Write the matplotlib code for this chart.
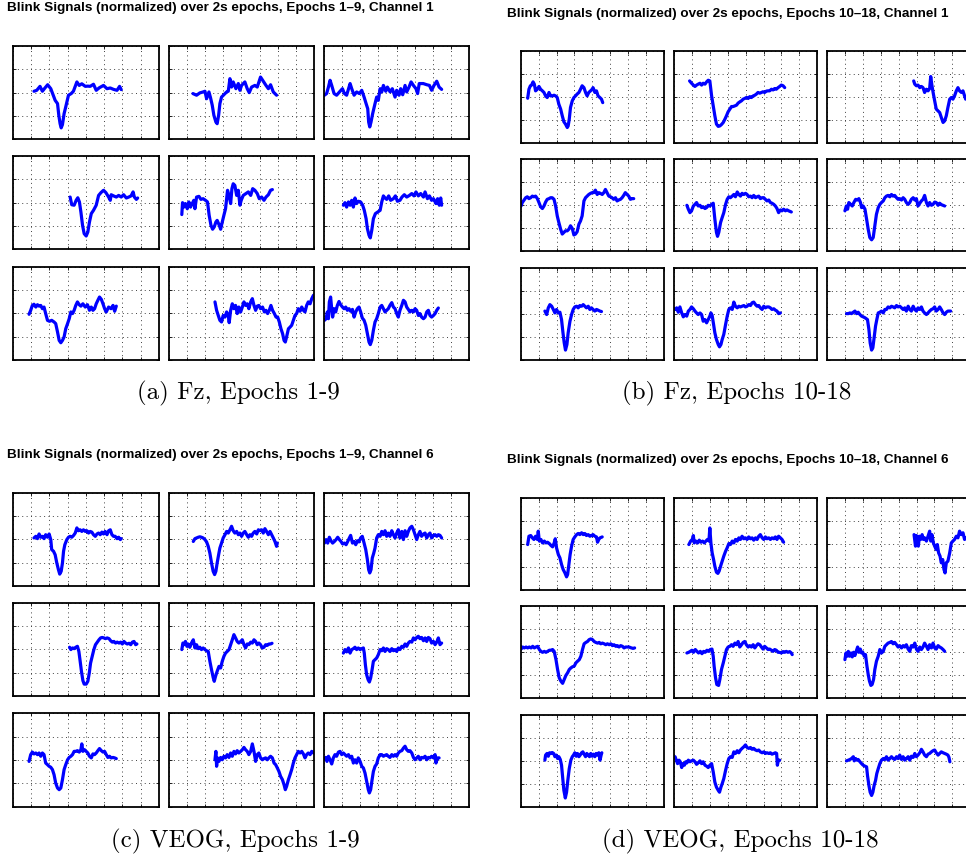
import numpy as np
import matplotlib
matplotlib.use("Agg")
import matplotlib.pyplot as plt

W, H = 966, 861

# ---------------------------------------------------------------------------
# Normalized blink epochs: (time, amplitude) samples, time in quarter-seconds
# ---------------------------------------------------------------------------

# Channel 1 (Fz), epochs 1-9
FZ_E01 = [(1.15, 0.06), (1.30, 0.10), (1.48, 0.27), (1.61, 0.06), (1.75, 0.20), (1.90, 0.34), (2.07, 0.17),
          (2.20, -0.10), (2.31, -0.33), (2.44, -0.47), (2.51, -0.97), (2.58, -1.33), (2.64, -1.51), (2.71, -1.37),
          (2.80, -0.90), (2.89, -0.61), (3.04, -0.11), (3.19, -0.04), (3.31, 0.06), (3.50, 0.46), (3.63, 0.31),
          (3.77, 0.38), (3.96, 0.27), (4.10, 0.28), (4.23, 0.27), (4.41, 0.36), (4.56, 0.10), (4.73, 0.21),
          (4.96, 0.31), (5.15, 0.17), (5.33, 0.20), (5.51, 0.14), (5.70, 0.10), (5.84, 0.27), (5.93, 0.13)]
FZ_E02 = [(1.34, -0.04), (1.54, -0.11), (1.72, -0.01), (1.90, 0.03), (2.00, 0.06), (2.09, -0.26), (2.22, 0.03),
          (2.31, -0.23), (2.40, -0.54), (2.49, -0.97), (2.60, -1.26), (2.67, -1.33), (2.75, -0.97), (2.82, -0.47),
          (2.91, -0.19), (3.10, -0.04), (3.19, 0.03), (3.28, 0.06), (3.37, 0.60), (3.46, 0.24), (3.55, 0.46),
          (3.70, 0.17), (3.83, 0.39), (3.92, 0.10), (4.01, 0.31), (4.19, 0.46), (4.32, 0.17), (4.43, 0.00),
          (4.56, 0.24), (4.74, 0.31), (4.87, 0.24), (5.05, 0.67), (5.20, 0.49), (5.35, 0.31), (5.48, 0.17),
          (5.60, 0.34), (5.75, 0.03), (5.93, -0.11)]
FZ_E03 = [(0.04, -0.11), (0.16, -0.04), (0.26, 0.24), (0.35, 0.53), (0.44, 0.31), (0.57, -0.04), (0.71, -0.11),
          (0.90, 0.06), (1.03, 0.17), (1.14, -0.04), (1.26, -0.11), (1.45, 0.39), (1.54, 0.17), (1.67, -0.11),
          (1.81, 0.03), (1.96, -0.04), (2.09, 0.10), (2.22, -0.19), (2.33, -0.47), (2.42, -0.69), (2.47, -1.26),
          (2.53, -1.47), (2.60, -1.26), (2.69, -0.90), (2.82, -0.47), (2.91, -0.19), (3.00, -0.33), (3.10, 0.17),
          (3.19, 0.03), (3.28, 0.31), (3.41, 0.06), (3.50, 0.24), (3.65, 0.03), (3.77, 0.17), (3.92, -0.19),
          (4.01, 0.10), (4.14, -0.11), (4.23, 0.17), (4.34, -0.09), (4.47, 0.31), (4.56, 0.03), (4.69, 0.24),
          (4.80, 0.46), (4.93, 0.31), (5.07, 0.17), (5.16, -0.04), (5.25, 0.39), (5.47, 0.39), (5.66, 0.34),
          (5.81, 0.31), (5.93, 0.10), (6.06, 0.31), (6.21, 0.49), (6.34, 0.24), (6.48, 0.14)]
FZ_E04 = [(3.13, 0.24), (3.22, -0.09), (3.35, -0.11), (3.46, 0.10), (3.55, 0.21), (3.64, 0.03), (3.72, -0.40),
          (3.81, -0.97), (3.90, -1.33), (4.01, -1.43), (4.10, -1.26), (4.19, -0.83), (4.29, -0.47), (4.41, -0.33),
          (4.56, -0.11), (4.69, 0.31), (4.82, 0.43), (4.96, 0.53), (5.09, 0.43), (5.24, 0.24), (5.33, 0.10),
          (5.38, 0.34), (5.51, 0.29), (5.66, 0.24), (5.79, 0.31), (5.93, 0.24), (6.06, 0.34), (6.21, 0.20),
          (6.34, 0.24), (6.47, 0.29), (6.58, 0.46), (6.65, 0.24), (6.76, 0.14), (6.83, 0.20)]
FZ_E05 = [(0.73, -0.51), (0.77, 0.00), (0.84, -0.19), (0.93, -0.04), (1.03, -0.26), (1.12, 0.03), (1.21, -0.19),
          (1.30, -0.04), (1.39, 0.10), (1.45, -0.26), (1.54, 0.24), (1.67, 0.27), (1.78, 0.14), (1.90, 0.17),
          (2.03, 0.10), (2.14, 0.03), (2.23, -0.54), (2.33, -0.97), (2.42, -1.14), (2.51, -1.04), (2.60, -0.83),
          (2.67, -0.76), (2.77, -0.94), (2.86, -1.14), (2.95, -0.83), (3.04, -0.54), (3.13, -0.26), (3.19, 0.17),
          (3.24, 0.53), (3.32, 0.31), (3.41, -0.04), (3.48, 0.60), (3.55, 0.81), (3.64, 0.74), (3.74, 0.31),
          (3.83, 0.53), (3.92, -0.11), (3.99, 0.10), (4.10, 0.31), (4.25, 0.39), (4.38, 0.46), (4.51, 0.31),
          (4.62, 0.60), (4.74, 0.53), (4.87, 0.39), (4.98, 0.17), (5.11, 0.24), (5.24, 0.10), (5.35, 0.24),
          (5.48, 0.34), (5.60, 0.53), (5.70, 0.56)]
FZ_E06 = [(1.08, -0.11), (1.17, 0.00), (1.26, -0.19), (1.36, 0.03), (1.45, -0.11), (1.54, 0.10), (1.63, -0.19),
          (1.72, 0.20), (1.81, -0.04), (1.90, 0.06), (2.03, 0.03), (2.14, -0.11), (2.23, -0.33), (2.33, -0.69),
          (2.40, -1.11), (2.49, -1.40), (2.56, -1.51), (2.64, -1.19), (2.73, -0.69), (2.84, -0.47), (2.97, -0.40),
          (3.10, -0.33), (3.19, 0.03), (3.28, 0.29), (3.37, 0.20), (3.46, 0.14), (3.57, 0.29), (3.68, 0.10),
          (3.83, 0.17), (3.94, 0.29), (4.05, 0.06), (4.19, 0.10), (4.30, 0.24), (4.43, 0.34), (4.56, 0.24),
          (4.71, 0.31), (4.84, 0.39), (4.96, 0.29), (5.07, 0.46), (5.20, 0.29), (5.33, 0.39), (5.48, 0.24),
          (5.57, 0.46), (5.70, 0.17), (5.81, 0.29), (5.93, 0.10), (6.03, 0.17), (6.17, -0.04), (6.26, 0.17),
          (6.35, -0.11), (6.43, 0.20), (6.48, -0.11)]
FZ_E07 = [(0.88, -0.04), (0.97, 0.13), (1.06, 0.34), (1.15, 0.39), (1.25, 0.27), (1.34, 0.37), (1.43, 0.31),
          (1.52, 0.34), (1.61, 0.20), (1.70, 0.27), (1.79, -0.01), (1.89, -0.30), (2.00, -0.34), (2.12, -0.30),
          (2.25, -0.37), (2.34, -0.44), (2.44, -0.80), (2.53, -1.16), (2.62, -1.26), (2.71, -1.16), (2.80, -1.01),
          (2.89, -0.66), (2.99, -0.44), (3.08, -0.23), (3.17, 0.06), (3.26, -0.01), (3.35, 0.13), (3.44, 0.34),
          (3.53, 0.49), (3.63, 0.37), (3.72, 0.31), (3.83, 0.41), (3.96, 0.27), (4.08, 0.37), (4.19, 0.13),
          (4.29, 0.27), (4.38, 0.13), (4.47, 0.20), (4.56, 0.41), (4.65, 0.56), (4.74, 0.70), (4.84, 0.60),
          (4.93, 0.41), (5.02, 0.20), (5.11, 0.06), (5.24, 0.27), (5.37, 0.20), (5.48, 0.34), (5.57, 0.09),
          (5.66, 0.31)]
FZ_E08 = [(2.55, 0.49), (2.64, 0.13), (2.73, -0.09), (2.82, -0.30), (2.91, -0.37), (3.00, -0.09), (3.10, -0.16),
          (3.19, 0.06), (3.28, -0.09), (3.33, -0.40), (3.41, 0.13), (3.50, 0.41), (3.59, 0.20), (3.68, 0.34),
          (3.77, -0.01), (3.86, 0.27), (3.96, 0.06), (4.05, 0.27), (4.14, 0.49), (4.23, 0.34), (4.32, 0.41),
          (4.41, 0.20), (4.51, 0.49), (4.60, 0.63), (4.69, 0.34), (4.78, 0.13), (4.87, 0.31), (4.96, 0.34),
          (5.05, 0.20), (5.16, 0.27), (5.26, 0.06), (5.35, 0.13), (5.44, -0.01), (5.53, 0.13), (5.62, 0.34),
          (5.71, 0.13), (5.81, -0.01), (5.90, -0.16), (5.99, -0.16), (6.08, -0.37), (6.17, -0.66), (6.26, -0.87),
          (6.34, -1.16), (6.41, -1.23), (6.48, -1.01), (6.58, -0.66), (6.67, -0.59), (6.76, -0.51), (6.85, -0.30),
          (6.94, -0.09), (7.03, -0.01), (7.12, 0.20), (7.22, 0.09), (7.31, 0.27), (7.40, 0.13), (7.49, 0.06),
          (7.58, 0.34), (7.67, 0.49), (7.77, 0.41), (7.86, 0.63), (7.95, 0.77), (8.00, 0.80), (8.10, 0.88)]
FZ_E09 = [(0.04, -0.30), (0.13, -0.23), (0.20, 0.06), (0.26, -0.23), (0.31, 0.49), (0.38, 0.70), (0.44, 0.20),
          (0.49, -0.16), (0.57, 0.20), (0.66, 0.06), (0.75, 0.34), (0.84, 0.51), (0.93, 0.37), (1.03, 0.27),
          (1.12, 0.20), (1.21, 0.27), (1.30, 0.13), (1.39, 0.20), (1.48, 0.09), (1.58, 0.17), (1.67, -0.16),
          (1.76, 0.06), (1.85, 0.20), (1.94, 0.27), (2.03, 0.06), (2.12, -0.20), (2.22, -0.30), (2.31, -0.51),
          (2.40, -0.87), (2.49, -1.23), (2.56, -1.34), (2.64, -1.16), (2.73, -0.73), (2.82, -0.37), (2.91, -0.23),
          (3.00, -0.01), (3.10, 0.27), (3.19, 0.34), (3.28, 0.20), (3.37, 0.06), (3.46, 0.13), (3.55, 0.20),
          (3.64, 0.34), (3.74, 0.46), (3.83, 0.27), (3.92, 0.20), (4.01, -0.01), (4.10, -0.16), (4.19, 0.13),
          (4.29, 0.34), (4.38, 0.56), (4.47, 0.49), (4.56, 0.27), (4.65, 0.17), (4.74, 0.06), (4.84, 0.13),
          (4.93, 0.06), (5.02, 0.20), (5.11, 0.13), (5.20, -0.09), (5.29, -0.01), (5.38, -0.16), (5.48, -0.23),
          (5.57, -0.16), (5.66, 0.06), (5.75, 0.13), (5.84, -0.09), (5.93, -0.16), (6.03, -0.09), (6.12, -0.01),
          (6.21, 0.13), (6.30, 0.23)]

# Channel 1 (Fz), epochs 10-18
FZ_E10 = [(0.39, -0.06), (0.46, 0.33), (0.54, 0.48), (0.61, 0.51), (0.69, 0.65), (0.76, 0.55), (0.83, 0.26),
          (0.93, 0.33), (1.02, 0.45), (1.11, 0.33), (1.21, 0.26), (1.30, 0.19), (1.39, 0.04), (1.48, -0.03),
          (1.58, 0.19), (1.67, 0.04), (1.76, 0.04), (1.86, 0.07), (1.95, 0.04), (2.04, -0.03), (2.13, -0.32),
          (2.23, -0.53), (2.32, -0.82), (2.41, -1.08), (2.50, -1.18), (2.60, -1.33), (2.65, -1.26), (2.71, -0.97),
          (2.78, -0.46), (2.88, -0.17), (2.97, -0.03), (3.06, 0.04), (3.15, 0.12), (3.25, 0.19), (3.34, 0.33),
          (3.43, 0.48), (3.53, 0.40), (3.62, 0.19), (3.71, 0.04), (3.80, 0.19), (3.90, 0.26), (3.99, 0.33),
          (4.04, 0.40), (4.14, 0.19), (4.23, 0.26), (4.32, 0.04), (4.42, -0.03), (4.51, -0.10), (4.58, -0.25)]
FZ_E11 = [(0.87, 0.69), (0.98, 0.59), (1.08, 0.51), (1.17, 0.45), (1.26, 0.51), (1.35, 0.55), (1.45, 0.59),
          (1.54, 0.51), (1.63, 0.59), (1.73, 0.55), (1.82, 0.65), (1.91, 0.72), (2.00, 0.69), (2.10, 0.04),
          (2.19, -0.39), (2.28, -0.82), (2.37, -1.18), (2.47, -1.28), (2.56, -1.26), (2.65, -1.20), (2.75, -1.11),
          (2.84, -0.97), (2.93, -0.82), (3.02, -0.65), (3.12, -0.53), (3.21, -0.42), (3.30, -0.42), (3.40, -0.39),
          (3.49, -0.36), (3.58, -0.27), (3.67, -0.22), (3.77, -0.17), (3.86, -0.10), (3.95, -0.07), (4.04, -0.03),
          (4.14, -0.07), (4.23, 0.01), (4.32, -0.03), (4.42, 0.04), (4.51, 0.07), (4.60, 0.12), (4.69, 0.19),
          (4.79, 0.16), (4.88, 0.19), (4.97, 0.22), (5.06, 0.19), (5.16, 0.25), (5.25, 0.26), (5.34, 0.26),
          (5.44, 0.33), (5.53, 0.30), (5.62, 0.36), (5.71, 0.33), (5.81, 0.40), (5.90, 0.45), (5.99, 0.51),
          (6.09, 0.48), (6.18, 0.40)]
FZ_E12 = [(4.84, 0.69), (4.90, 0.55), (4.99, 0.48), (5.08, 0.51), (5.18, 0.40), (5.27, 0.45), (5.36, 0.40),
          (5.45, 0.19), (5.55, 0.33), (5.64, 0.26), (5.73, 0.36), (5.79, 0.88), (5.86, 0.48), (5.94, 0.12),
          (6.01, -0.17), (6.10, -0.53), (6.20, -0.61), (6.29, -0.68), (6.38, -0.89), (6.48, -1.11), (6.57, -1.04),
          (6.66, -0.82), (6.75, -0.46), (6.85, -0.10), (6.94, -0.03), (7.03, -0.10), (7.12, 0.04), (7.22, 0.26),
          (7.31, 0.40), (7.40, 0.26), (7.50, 0.19), (7.59, 0.26), (7.68, 0.04), (7.74, -0.10), (7.85, 0.10),
          (8.00, 0.25)]
FZ_E13 = [(0.02, -0.03), (0.09, 0.12), (0.19, 0.23), (0.28, 0.33), (0.37, 0.37), (0.46, 0.29), (0.56, 0.33),
          (0.65, 0.40), (0.74, 0.37), (0.83, 0.40), (0.93, 0.29), (1.02, 0.12), (1.11, -0.06), (1.21, -0.14),
          (1.30, -0.03), (1.39, 0.14), (1.48, 0.26), (1.58, 0.29), (1.67, 0.33), (1.76, 0.33), (1.86, 0.26),
          (1.95, -0.03), (2.04, -0.46), (2.13, -0.75), (2.23, -1.04), (2.32, -1.25), (2.41, -1.18), (2.50, -1.11),
          (2.60, -1.11), (2.69, -1.04), (2.78, -0.89), (2.88, -1.01), (2.97, -1.29), (3.06, -1.25), (3.15, -1.15),
          (3.25, -0.82), (3.34, -0.68), (3.43, -0.46), (3.53, 0.19), (3.62, 0.33), (3.71, 0.40), (3.80, 0.47),
          (3.90, 0.52), (3.99, 0.55), (4.08, 0.55), (4.17, 0.66), (4.27, 0.47), (4.36, 0.55), (4.45, 0.52),
          (4.55, 0.47), (4.64, 0.55), (4.73, 0.69), (4.82, 0.55), (4.92, 0.40), (5.01, 0.37), (5.10, 0.33),
          (5.19, 0.26), (5.29, 0.33), (5.38, 0.19), (5.47, 0.23), (5.57, 0.26), (5.66, 0.33), (5.75, 0.43),
          (5.84, 0.55), (5.94, 0.47), (6.03, 0.40), (6.12, 0.26), (6.22, 0.29), (6.31, 0.29)]
FZ_E14 = [(0.72, 0.00), (0.80, -0.17), (0.89, -0.32), (0.98, -0.24), (1.08, -0.03), (1.17, 0.04), (1.26, 0.12),
          (1.35, -0.03), (1.45, 0.00), (1.54, -0.10), (1.63, -0.06), (1.73, -0.14), (1.82, -0.10), (1.91, 0.00),
          (2.00, -0.03), (2.10, 0.04), (2.19, 0.09), (2.28, -0.60), (2.37, -1.18), (2.43, -1.35), (2.50, -1.18),
          (2.60, -0.75), (2.69, -0.53), (2.78, -0.32), (2.88, 0.04), (2.97, 0.26), (3.06, 0.37), (3.15, 0.33),
          (3.25, 0.40), (3.34, 0.47), (3.43, 0.37), (3.53, 0.58), (3.62, 0.47), (3.71, 0.40), (3.80, 0.52),
          (3.90, 0.47), (3.99, 0.52), (4.08, 0.47), (4.17, 0.37), (4.27, 0.40), (4.36, 0.33), (4.45, 0.43),
          (4.55, 0.33), (4.64, 0.37), (4.73, 0.40), (4.82, 0.29), (4.92, 0.33), (5.01, 0.33), (5.10, 0.26),
          (5.19, 0.19), (5.29, 0.23), (5.38, 0.12), (5.47, 0.09), (5.57, 0.04), (5.66, -0.03), (5.75, -0.14),
          (5.84, -0.32), (5.94, -0.20), (6.03, -0.24), (6.12, -0.17), (6.22, -0.24), (6.31, -0.20), (6.40, -0.24),
          (6.55, -0.29)]
FZ_E15 = [(1.00, -0.24), (1.08, -0.03), (1.15, -0.17), (1.22, 0.12), (1.32, 0.04), (1.41, -0.03), (1.50, 0.12),
          (1.60, 0.26), (1.69, 0.23), (1.78, 0.29), (1.87, 0.12), (1.93, -0.10), (2.02, -0.03), (2.12, -0.17),
          (2.21, -0.60), (2.30, -1.04), (2.39, -1.40), (2.49, -1.50), (2.58, -1.40), (2.67, -0.89), (2.76, -0.39),
          (2.86, -0.10), (2.95, 0.04), (3.04, 0.12), (3.14, 0.19), (3.23, 0.33), (3.32, 0.40), (3.41, 0.43),
          (3.51, 0.37), (3.60, 0.47), (3.69, 0.40), (3.78, 0.43), (3.88, 0.33), (3.97, 0.26), (4.06, 0.29),
          (4.16, 0.23), (4.25, 0.33), (4.34, 0.26), (4.43, 0.12), (4.53, 0.04), (4.62, 0.12), (4.71, 0.26),
          (4.81, 0.33), (4.90, 0.23), (4.99, 0.29), (5.08, -0.03), (5.18, 0.09), (5.27, 0.19), (5.36, 0.26),
          (5.45, 0.43), (5.55, 0.12), (5.64, -0.03), (5.73, 0.12), (5.83, 0.00), (5.92, 0.04), (6.01, 0.14),
          (6.10, 0.12), (6.20, 0.00), (6.29, 0.09), (6.38, 0.03), (6.57, -0.03)]
FZ_E16 = [(1.35, 0.12), (1.45, -0.03), (1.54, 0.26), (1.63, 0.40), (1.73, 0.33), (1.82, 0.19), (1.91, 0.04),
          (2.00, 0.19), (2.10, 0.04), (2.19, 0.07), (2.28, -0.25), (2.36, -0.82), (2.43, -1.26), (2.50, -1.57),
          (2.58, -1.33), (2.65, -0.82), (2.75, -0.32), (2.84, -0.03), (2.93, 0.19), (3.02, 0.30), (3.12, 0.33),
          (3.21, 0.26), (3.30, 0.36), (3.40, 0.33), (3.49, 0.40), (3.58, 0.33), (3.67, 0.26), (3.77, 0.33),
          (3.86, 0.19), (3.95, 0.26), (4.04, 0.19), (4.14, 0.12), (4.23, 0.19), (4.32, 0.16), (4.42, 0.12),
          (4.51, 0.10)]
FZ_E17 = [(0.06, 0.19), (0.15, 0.26), (0.24, 0.07), (0.33, 0.30), (0.43, 0.04), (0.52, -0.13), (0.61, -0.03),
          (0.71, -0.10), (0.80, 0.12), (0.89, 0.19), (0.98, 0.30), (1.08, 0.22), (1.17, 0.12), (1.26, 0.04),
          (1.35, -0.03), (1.45, 0.04), (1.54, -0.03), (1.63, -0.32), (1.73, -0.25), (1.82, -0.39), (1.91, -0.25),
          (2.00, -0.10), (2.06, 0.04), (2.13, -0.07), (2.21, -0.46), (2.28, -0.82), (2.37, -1.11), (2.47, -1.33),
          (2.54, -1.43), (2.62, -1.33), (2.69, -1.11), (2.78, -0.89), (2.88, -0.46), (2.97, -0.10), (3.06, 0.19),
          (3.15, 0.26), (3.25, 0.19), (3.34, 0.51), (3.43, 0.33), (3.53, 0.26), (3.62, 0.33), (3.71, 0.30),
          (3.80, 0.33), (3.90, 0.36), (3.99, 0.30), (4.08, 0.33), (4.17, 0.40), (4.27, 0.36), (4.36, 0.48),
          (4.45, 0.51), (4.55, 0.40), (4.64, 0.33), (4.73, 0.36), (4.82, 0.26), (4.92, 0.19), (5.01, 0.33),
          (5.10, 0.26), (5.19, 0.30), (5.29, 0.30), (5.38, 0.26), (5.47, 0.19), (5.57, 0.22), (5.66, 0.16),
          (5.75, 0.12), (5.84, 0.01), (5.94, 0.04)]
FZ_E18 = [(1.09, 0.01), (1.19, 0.01), (1.28, 0.04), (1.37, 0.01), (1.47, 0.07), (1.56, 0.12), (1.65, 0.01),
          (1.74, 0.07), (1.84, -0.03), (1.93, -0.10), (2.02, -0.13), (2.12, -0.17), (2.21, -0.22), (2.26, -0.25),
          (2.34, -0.68), (2.41, -1.26), (2.49, -1.57), (2.56, -1.47), (2.63, -1.04), (2.71, -0.53), (2.78, -0.25),
          (2.86, 0.04), (2.95, 0.07), (3.04, 0.12), (3.14, 0.04), (3.23, 0.19), (3.32, 0.19), (3.41, 0.30),
          (3.51, 0.26), (3.60, 0.33), (3.69, 0.30), (3.78, 0.26), (3.88, 0.36), (3.97, 0.30), (4.06, 0.33),
          (4.16, 0.26), (4.25, 0.19), (4.34, 0.26), (4.43, 0.12), (4.53, 0.33), (4.62, 0.19), (4.71, 0.12),
          (4.81, 0.33), (4.90, 0.19), (4.99, 0.12), (5.08, 0.26), (5.18, 0.19), (5.27, 0.30), (5.36, 0.12),
          (5.45, 0.04), (5.55, -0.03), (5.64, 0.04), (5.73, 0.12), (5.83, 0.19), (5.92, 0.22), (6.01, 0.30),
          (6.10, 0.12), (6.20, 0.19), (6.29, 0.30), (6.38, 0.19), (6.48, 0.04), (6.57, -0.03), (6.66, 0.07),
          (6.75, 0.12), (6.90, 0.12)]

# Channel 6 (VEOG), epochs 1-9
VEOG_E01 = [(1.15, 0.06), (1.25, 0.13), (1.34, 0.03), (1.43, 0.23), (1.52, 0.09), (1.61, 0.13), (1.70, 0.03),
            (1.79, 0.20), (1.89, 0.09), (1.98, 0.23), (2.07, -0.01), (2.12, -0.44), (2.22, -0.51), (2.31, -0.66),
            (2.40, -1.01), (2.49, -1.30), (2.56, -1.49), (2.64, -1.37), (2.71, -1.01), (2.77, -0.51), (2.84, -0.23),
            (2.95, -0.01), (3.04, 0.09), (3.13, 0.13), (3.22, 0.09), (3.32, 0.17), (3.41, 0.27), (3.50, 0.49),
            (3.59, 0.37), (3.68, 0.41), (3.77, 0.34), (3.86, 0.41), (3.96, 0.34), (4.05, 0.37), (4.14, 0.27),
            (4.23, 0.34), (4.32, 0.31), (4.41, 0.20), (4.51, 0.13), (4.60, 0.23), (4.69, 0.27), (4.78, 0.20),
            (4.87, 0.31), (4.96, 0.23), (5.05, 0.34), (5.15, 0.20), (5.24, 0.37), (5.33, 0.41), (5.42, 0.20),
            (5.51, 0.13), (5.60, 0.13), (5.70, 0.03), (5.79, 0.09), (5.88, -0.01), (5.93, 0.03)]
VEOG_E02 = [(1.36, -0.09), (1.45, 0.03), (1.54, 0.06), (1.63, 0.09), (1.72, 0.11), (1.81, 0.09), (1.90, 0.06),
            (2.00, -0.01), (2.09, -0.11), (2.18, -0.30), (2.27, -0.59), (2.36, -1.01), (2.45, -1.37), (2.53, -1.51),
            (2.60, -1.37), (2.67, -1.01), (2.75, -0.66), (2.82, -0.37), (2.91, -0.16), (3.00, 0.06), (3.10, 0.20),
            (3.19, 0.34), (3.28, 0.27), (3.37, 0.41), (3.46, 0.56), (3.55, 0.37), (3.64, 0.27), (3.74, 0.34),
            (3.83, 0.20), (3.92, 0.27), (4.01, 0.13), (4.10, 0.27), (4.19, 0.34), (4.29, 0.20), (4.38, 0.09),
            (4.47, 0.20), (4.56, 0.13), (4.65, 0.27), (4.74, 0.34), (4.84, 0.23), (4.93, 0.41), (5.02, 0.37),
            (5.11, 0.41), (5.20, 0.27), (5.29, 0.46), (5.38, 0.34), (5.48, 0.20), (5.57, 0.34), (5.66, 0.20),
            (5.75, 0.06), (5.84, -0.09), (5.93, -0.30), (5.97, -0.16)]
VEOG_E03 = [(0.04, -0.16), (0.13, -0.01), (0.22, -0.16), (0.31, 0.09), (0.40, -0.06), (0.49, -0.16), (0.59, -0.09),
            (0.68, -0.01), (0.77, 0.09), (0.86, -0.01), (0.95, -0.09), (1.04, -0.20), (1.14, -0.16), (1.23, -0.23),
            (1.32, -0.09), (1.41, 0.06), (1.48, 0.17), (1.58, -0.16), (1.67, -0.09), (1.76, -0.23), (1.85, -0.06),
            (1.94, -0.11), (2.03, 0.06), (2.12, 0.13), (2.22, -0.16), (2.31, -0.44), (2.40, -0.87), (2.47, -1.30),
            (2.53, -1.44), (2.60, -1.30), (2.67, -0.80), (2.75, -0.59), (2.82, -0.37), (2.91, 0.06), (3.00, 0.20),
            (3.10, 0.13), (3.19, 0.34), (3.28, 0.20), (3.37, 0.37), (3.46, 0.13), (3.55, 0.27), (3.64, 0.13),
            (3.74, 0.37), (3.83, 0.20), (3.92, 0.06), (4.01, 0.27), (4.10, 0.41), (4.19, 0.06), (4.29, 0.34),
            (4.38, -0.01), (4.47, 0.37), (4.56, 0.13), (4.65, 0.34), (4.74, 0.49), (4.84, 0.56), (4.93, 0.41),
            (5.02, 0.20), (5.11, -0.01), (5.20, 0.20), (5.29, 0.34), (5.38, 0.13), (5.48, 0.23), (5.57, 0.27),
            (5.66, 0.06), (5.75, 0.20), (5.84, 0.27), (5.93, 0.06), (6.03, 0.17), (6.12, 0.20), (6.21, 0.13),
            (6.30, 0.20), (6.39, 0.17), (6.48, 0.06)]
VEOG_E04 = [(3.10, 0.09), (3.17, -0.01), (3.26, 0.06), (3.35, 0.03), (3.44, 0.09), (3.53, 0.13), (3.61, -0.09),
            (3.68, -0.51), (3.75, -0.94), (3.83, -1.34), (3.90, -1.49), (4.01, -1.49), (4.10, -1.37), (4.18, -1.01),
            (4.25, -0.59), (4.34, -0.30), (4.43, -0.01), (4.52, 0.20), (4.62, 0.31), (4.71, 0.41), (4.80, 0.49),
            (4.89, 0.51), (4.98, 0.49), (5.07, 0.46), (5.16, 0.49), (5.26, 0.46), (5.35, 0.37), (5.44, 0.31),
            (5.53, 0.34), (5.62, 0.27), (5.71, 0.31), (5.81, 0.27), (5.90, 0.31), (5.99, 0.23), (6.08, 0.34),
            (6.17, 0.27), (6.26, 0.23), (6.36, 0.26), (6.45, 0.20), (6.54, 0.31), (6.63, 0.34), (6.72, 0.20),
            (6.79, 0.23)]
VEOG_E05 = [(0.73, -0.01), (0.79, 0.27), (0.86, 0.20), (0.93, 0.34), (1.01, 0.13), (1.08, 0.23), (1.17, 0.09),
            (1.26, 0.27), (1.36, 0.41), (1.45, 0.06), (1.54, 0.20), (1.63, 0.03), (1.72, 0.09), (1.81, -0.01),
            (1.90, 0.06), (2.00, -0.01), (2.09, -0.06), (2.18, -0.09), (2.27, -0.51), (2.36, -0.87), (2.45, -1.20),
            (2.51, -1.37), (2.58, -1.16), (2.67, -0.94), (2.77, -0.73), (2.86, -0.80), (2.95, -0.51), (3.04, -0.30),
            (3.13, -0.16), (3.22, -0.09), (3.32, -0.01), (3.41, 0.20), (3.50, 0.41), (3.59, 0.63), (3.68, 0.49),
            (3.77, 0.34), (3.86, 0.27), (3.96, 0.34), (4.05, 0.41), (4.14, 0.20), (4.23, 0.06), (4.32, 0.23),
            (4.41, 0.20), (4.51, 0.31), (4.60, 0.27), (4.69, 0.41), (4.78, 0.34), (4.87, 0.20), (4.96, 0.27),
            (5.05, 0.20), (5.15, 0.06), (5.24, 0.09), (5.33, 0.20), (5.42, 0.17), (5.51, 0.23), (5.60, 0.23),
            (5.68, 0.26)]
VEOG_E06 = [(1.08, -0.16), (1.17, -0.01), (1.26, -0.11), (1.36, 0.06), (1.45, -0.16), (1.54, -0.01), (1.63, 0.03),
            (1.72, 0.09), (1.81, -0.01), (1.90, 0.06), (2.00, -0.01), (2.09, 0.03), (2.18, 0.06), (2.23, -0.16),
            (2.29, -0.66), (2.36, -1.09), (2.44, -1.30), (2.51, -1.40), (2.58, -1.23), (2.66, -0.87), (2.73, -0.51),
            (2.82, -0.44), (2.91, -0.37), (3.00, -0.23), (3.10, -0.01), (3.19, -0.06), (3.28, 0.06), (3.37, -0.09),
            (3.46, 0.03), (3.55, -0.01), (3.64, -0.09), (3.74, 0.03), (3.83, -0.06), (3.92, -0.01), (4.01, -0.09),
            (4.10, 0.06), (4.19, -0.01), (4.29, 0.13), (4.38, 0.09), (4.47, 0.23), (4.56, 0.13), (4.65, 0.27),
            (4.74, 0.34), (4.84, 0.31), (4.93, 0.49), (5.02, 0.41), (5.11, 0.51), (5.20, 0.56), (5.29, 0.46),
            (5.38, 0.51), (5.48, 0.37), (5.57, 0.49), (5.66, 0.34), (5.75, 0.51), (5.84, 0.46), (5.93, 0.27),
            (6.03, 0.34), (6.12, 0.20), (6.21, 0.31), (6.30, 0.49), (6.39, 0.20), (6.48, 0.27)]
VEOG_E07 = [(0.88, -0.06), (0.97, 0.23), (1.06, 0.34), (1.15, 0.26), (1.25, 0.30), (1.34, 0.23), (1.43, 0.30),
            (1.52, 0.16), (1.61, 0.30), (1.70, 0.23), (1.79, -0.13), (1.89, -0.20), (1.98, -0.27), (2.07, -0.31),
            (2.16, -0.41), (2.25, -0.63), (2.34, -0.99), (2.44, -1.20), (2.53, -1.27), (2.62, -1.20), (2.71, -0.84),
            (2.80, -0.41), (2.89, -0.20), (2.99, 0.01), (3.08, 0.11), (3.17, 0.16), (3.26, 0.23), (3.35, 0.37),
            (3.44, 0.37), (3.53, 0.40), (3.63, 0.34), (3.72, 0.44), (3.77, 0.69), (3.83, 0.37), (3.92, 0.44),
            (4.01, 0.37), (4.10, 0.30), (4.19, 0.16), (4.29, 0.09), (4.38, 0.26), (4.47, 0.23), (4.56, 0.30),
            (4.65, 0.40), (4.74, 0.49), (4.84, 0.40), (4.93, 0.34), (5.02, 0.37), (5.11, 0.23), (5.20, 0.11),
            (5.29, 0.16), (5.38, 0.09), (5.48, 0.11), (5.57, 0.09), (5.66, 0.06)]
VEOG_E08 = [(2.55, 0.01), (2.60, 0.37), (2.64, -0.27), (2.69, 0.09), (2.77, -0.06), (2.86, 0.11), (2.95, 0.01),
            (3.04, 0.16), (3.13, 0.09), (3.22, 0.23), (3.32, 0.11), (3.41, 0.30), (3.50, 0.16), (3.59, 0.37),
            (3.68, 0.26), (3.77, 0.40), (3.86, 0.30), (3.96, 0.37), (4.05, 0.44), (4.14, 0.54), (4.23, 0.44),
            (4.32, 0.37), (4.41, 0.23), (4.51, 0.37), (4.60, 0.69), (4.69, 0.37), (4.78, -0.06), (4.87, 0.23),
            (4.96, 0.30), (5.05, 0.09), (5.15, 0.01), (5.24, 0.06), (5.33, 0.09), (5.42, 0.01), (5.51, 0.09),
            (5.60, 0.16), (5.70, 0.09), (5.79, -0.13), (5.88, -0.20), (5.97, -0.34), (6.06, -0.49), (6.15, -0.70),
            (6.25, -0.84), (6.34, -1.06), (6.41, -1.27), (6.48, -1.13), (6.58, -0.84), (6.67, -0.63), (6.76, -0.41),
            (6.85, -0.13), (6.94, 0.09), (7.03, 0.23), (7.12, 0.37), (7.22, 0.30), (7.31, 0.37), (7.40, 0.26),
            (7.49, 0.09), (7.58, 0.23), (7.67, 0.30), (7.77, 0.23), (7.86, 0.37), (7.95, 0.30), (8.00, 0.34),
            (8.10, 0.30)]
VEOG_E09 = [(0.04, 0.01), (0.11, 0.11), (0.18, -0.06), (0.26, 0.16), (0.35, 0.01), (0.44, -0.17), (0.53, 0.09),
            (0.62, 0.23), (0.71, 0.16), (0.81, 0.34), (0.90, 0.37), (0.99, 0.23), (1.08, 0.30), (1.17, 0.23),
            (1.26, 0.16), (1.36, 0.23), (1.45, 0.09), (1.54, 0.16), (1.63, -0.13), (1.72, 0.01), (1.81, -0.13),
            (1.90, 0.09), (2.00, -0.06), (2.09, -0.27), (2.18, -0.34), (2.27, -0.56), (2.36, -0.91), (2.45, -1.27),
            (2.51, -1.41), (2.58, -1.27), (2.66, -0.84), (2.73, -0.49), (2.82, -0.27), (2.91, -0.17), (3.00, 0.09),
            (3.10, 0.23), (3.19, 0.23), (3.28, 0.16), (3.37, 0.20), (3.46, 0.23), (3.55, 0.16), (3.64, 0.11),
            (3.74, 0.23), (3.83, 0.16), (3.92, 0.23), (4.01, 0.16), (4.10, 0.30), (4.19, 0.37), (4.29, 0.40),
            (4.38, 0.51), (4.47, 0.59), (4.56, 0.44), (4.65, 0.37), (4.74, 0.40), (4.84, 0.30), (4.93, 0.11),
            (5.02, 0.01), (5.11, 0.09), (5.20, 0.16), (5.29, 0.01), (5.38, 0.11), (5.48, 0.09), (5.57, 0.16),
            (5.66, 0.01), (5.75, 0.11), (5.84, 0.09), (5.93, 0.16), (6.03, 0.09), (6.12, 0.23), (6.17, -0.13),
            (6.25, 0.09), (6.34, 0.09)]

# Channel 6 (VEOG), epochs 10-18
VEOG_E10 = [(0.39, -0.03), (0.46, 0.33), (0.56, 0.36), (0.65, 0.26), (0.74, 0.19), (0.83, 0.33), (0.93, 0.19),
            (0.98, 0.55), (1.04, 0.12), (1.13, 0.19), (1.22, 0.04), (1.32, 0.12), (1.41, 0.04), (1.50, 0.07),
            (1.60, 0.01), (1.69, -0.07), (1.78, -0.13), (1.87, 0.04), (1.93, 0.22), (2.00, -0.17), (2.10, -0.46),
            (2.19, -0.61), (2.28, -0.89), (2.37, -1.11), (2.47, -1.26), (2.56, -1.43), (2.62, -1.33), (2.69, -0.89),
            (2.76, -0.46), (2.84, -0.10), (2.93, 0.19), (3.02, 0.30), (3.12, 0.40), (3.21, 0.45), (3.30, 0.40),
            (3.40, 0.48), (3.49, 0.40), (3.58, 0.45), (3.67, 0.36), (3.77, 0.40), (3.86, 0.33), (3.95, 0.36),
            (4.04, 0.40), (4.14, 0.33), (4.23, 0.30), (4.29, 0.07), (4.36, 0.19), (4.43, 0.26), (4.55, 0.30)]
VEOG_E11 = [(0.83, -0.03), (0.93, 0.12), (1.02, 0.19), (1.08, 0.36), (1.13, 0.04), (1.22, 0.12), (1.32, 0.04),
            (1.41, 0.16), (1.50, 0.07), (1.60, 0.12), (1.69, 0.04), (1.78, 0.12), (1.87, 0.19), (1.95, 0.12),
            (2.00, 0.69), (2.06, 0.04), (2.13, -0.39), (2.21, -0.68), (2.28, -0.97), (2.37, -1.23), (2.45, -1.28),
            (2.52, -1.18), (2.60, -0.97), (2.69, -0.75), (2.78, -0.53), (2.88, -0.32), (2.97, -0.17), (3.06, 0.01),
            (3.15, -0.03), (3.25, 0.12), (3.34, 0.04), (3.43, 0.19), (3.53, 0.12), (3.62, 0.26), (3.71, 0.19),
            (3.80, 0.33), (3.90, 0.22), (3.99, 0.26), (4.08, 0.19), (4.17, 0.30), (4.27, 0.22), (4.36, 0.26),
            (4.45, 0.16), (4.55, 0.26), (4.64, 0.19), (4.73, 0.33), (4.82, 0.40), (4.92, 0.26), (5.01, 0.19),
            (5.10, 0.30), (5.19, 0.22), (5.29, 0.26), (5.38, 0.19), (5.47, 0.26), (5.57, 0.22), (5.66, 0.30),
            (5.75, 0.19), (5.84, 0.33), (5.94, 0.26), (6.03, 0.19), (6.12, 0.07)]
VEOG_E12 = [(4.86, 0.40), (4.94, -0.10), (4.99, 0.36), (5.05, 0.26), (5.10, -0.10), (5.16, 0.33), (5.23, 0.19),
            (5.31, 0.40), (5.38, 0.19), (5.45, 0.26), (5.55, 0.12), (5.64, 0.33), (5.73, 0.55), (5.79, 0.12),
            (5.86, 0.40), (5.94, 0.04), (6.01, -0.10), (6.10, -0.25), (6.16, -0.03), (6.23, -0.39), (6.31, -0.53),
            (6.38, -0.82), (6.46, -0.68), (6.53, -1.11), (6.59, -1.26), (6.66, -0.82), (6.75, -0.75), (6.85, -0.39),
            (6.94, 0.04), (7.03, 0.12), (7.12, 0.19), (7.22, 0.33), (7.31, 0.26), (7.40, 0.55), (7.50, 0.40),
            (7.59, 0.48), (7.68, 0.19), (7.77, 0.26), (7.90, 0.30)]
VEOG_E13 = [(0.02, 0.14), (0.11, 0.23), (0.20, 0.19), (0.30, 0.23), (0.39, 0.19), (0.48, 0.23), (0.58, 0.19),
            (0.67, 0.26), (0.76, 0.19), (0.85, 0.23), (0.95, 0.26), (1.04, 0.12), (1.13, 0.04), (1.22, 0.00),
            (1.32, 0.04), (1.41, 0.00), (1.50, 0.04), (1.60, 0.09), (1.69, 0.09), (1.78, 0.12), (1.87, 0.04),
            (1.97, -0.32), (2.06, -0.75), (2.15, -1.11), (2.24, -1.25), (2.34, -1.35), (2.43, -1.18), (2.52, -1.01),
            (2.62, -0.89), (2.71, -0.75), (2.80, -0.68), (2.89, -0.63), (2.99, -0.60), (3.08, -0.46), (3.17, -0.39),
            (3.27, -0.32), (3.36, -0.17), (3.45, 0.12), (3.54, 0.37), (3.64, 0.43), (3.73, 0.47), (3.82, 0.55),
            (3.91, 0.58), (4.01, 0.55), (4.10, 0.47), (4.19, 0.43), (4.29, 0.40), (4.38, 0.43), (4.47, 0.37),
            (4.56, 0.40), (4.66, 0.37), (4.75, 0.33), (4.84, 0.37), (4.94, 0.33), (5.03, 0.37), (5.12, 0.29),
            (5.21, 0.33), (5.31, 0.26), (5.40, 0.29), (5.49, 0.23), (5.58, 0.29), (5.68, 0.26), (5.77, 0.19),
            (5.86, 0.23), (5.96, 0.23), (6.05, 0.23), (6.14, 0.20), (6.27, 0.17), (6.36, 0.19)]
VEOG_E14 = [(0.72, -0.03), (0.82, 0.00), (0.91, 0.04), (1.00, 0.09), (1.09, 0.00), (1.19, 0.12), (1.28, 0.04),
            (1.37, -0.03), (1.47, 0.04), (1.56, -0.06), (1.65, 0.04), (1.74, 0.00), (1.84, 0.09), (1.93, 0.04),
            (2.02, 0.12), (2.12, 0.14), (2.19, -0.17), (2.24, -0.60), (2.32, -1.11), (2.39, -1.40), (2.49, -1.44),
            (2.56, -1.18), (2.65, -0.75), (2.75, -0.46), (2.84, -0.17), (2.93, 0.12), (3.02, 0.23), (3.12, 0.26),
            (3.21, 0.33), (3.30, 0.26), (3.40, 0.40), (3.49, 0.33), (3.58, 0.47), (3.67, 0.23), (3.77, 0.33),
            (3.86, 0.43), (3.95, 0.47), (4.04, 0.33), (4.14, 0.23), (4.23, 0.29), (4.32, 0.23), (4.42, 0.33),
            (4.51, 0.19), (4.60, 0.29), (4.69, 0.37), (4.79, 0.33), (4.88, 0.23), (4.97, 0.14), (5.06, 0.26),
            (5.16, 0.19), (5.25, 0.12), (5.34, 0.14), (5.44, 0.09), (5.53, 0.04), (5.62, 0.12), (5.71, 0.09),
            (5.81, 0.00), (5.90, 0.00), (5.99, -0.03), (6.09, 0.03), (6.18, 0.00), (6.27, 0.04), (6.36, 0.00),
            (6.46, 0.03), (6.55, -0.03), (6.60, -0.10)]
VEOG_E15 = [(1.00, -0.32), (1.06, -0.03), (1.13, -0.17), (1.19, 0.04), (1.26, -0.17), (1.34, -0.03), (1.41, -0.20),
            (1.48, 0.00), (1.56, -0.14), (1.63, 0.04), (1.71, 0.23), (1.78, 0.00), (1.86, 0.14), (1.93, -0.03),
            (2.00, 0.00), (2.08, -0.17), (2.15, -0.10), (2.23, -0.60), (2.30, -0.96), (2.37, -1.25), (2.45, -1.44),
            (2.52, -1.40), (2.60, -1.18), (2.67, -0.75), (2.76, -0.39), (2.86, -0.17), (2.95, 0.12), (3.04, -0.03),
            (3.14, 0.04), (3.23, 0.26), (3.32, 0.33), (3.41, 0.40), (3.51, 0.43), (3.60, 0.47), (3.69, 0.37),
            (3.78, 0.43), (3.88, 0.33), (3.97, 0.23), (4.06, 0.29), (4.16, 0.19), (4.25, 0.29), (4.34, 0.23),
            (4.43, 0.33), (4.53, 0.14), (4.62, 0.04), (4.71, 0.29), (4.81, 0.23), (4.90, 0.40), (4.99, 0.14),
            (5.08, 0.04), (5.18, 0.23), (5.27, 0.12), (5.36, 0.23), (5.45, 0.40), (5.55, 0.26), (5.64, 0.12),
            (5.73, 0.33), (5.83, 0.19), (5.92, 0.40), (6.01, 0.19), (6.10, 0.14), (6.20, 0.29), (6.29, 0.23),
            (6.38, 0.19), (6.48, 0.12), (6.57, 0.04)]
VEOG_E16 = [(1.35, 0.03), (1.39, 0.25), (1.47, 0.32), (1.54, 0.20), (1.61, 0.35), (1.69, 0.32), (1.76, 0.36),
            (1.84, 0.32), (1.91, 0.18), (1.99, 0.25), (2.06, 0.10), (2.13, 0.18), (2.21, 0.06), (2.28, -0.19),
            (2.34, -0.70), (2.41, -1.28), (2.49, -1.61), (2.56, -1.36), (2.63, -0.85), (2.71, -0.34), (2.80, 0.03),
            (2.88, 0.18), (2.95, 0.25), (3.02, 0.35), (3.10, 0.20), (3.17, 0.32), (3.25, 0.18), (3.32, 0.25),
            (3.40, 0.35), (3.47, 0.39), (3.54, 0.29), (3.62, 0.18), (3.69, 0.32), (3.77, 0.25), (3.84, 0.18),
            (3.91, 0.32), (3.99, 0.20), (4.06, 0.29), (4.14, 0.18), (4.21, 0.32), (4.29, 0.25), (4.36, 0.35),
            (4.43, 0.03), (4.49, 0.25), (4.53, 0.35)]
VEOG_E17 = [(0.06, 0.18), (0.13, 0.03), (0.20, -0.12), (0.28, 0.03), (0.35, -0.04), (0.43, -0.29), (0.50, -0.12),
            (0.58, -0.19), (0.65, -0.04), (0.72, -0.09), (0.80, 0.03), (0.89, -0.04), (0.98, 0.00), (1.08, 0.03),
            (1.17, -0.04), (1.26, -0.15), (1.35, -0.09), (1.45, 0.00), (1.54, -0.12), (1.63, -0.04), (1.73, -0.19),
            (1.82, -0.23), (1.91, -0.29), (2.00, -0.19), (2.10, -0.12), (2.19, -0.48), (2.28, -0.92), (2.37, -1.14),
            (2.47, -1.28), (2.54, -1.36), (2.62, -1.14), (2.69, -0.99), (2.78, -0.77), (2.88, -0.41), (2.97, -0.12),
            (3.06, 0.10), (3.15, 0.18), (3.25, 0.15), (3.34, 0.39), (3.43, 0.32), (3.53, 0.44), (3.62, 0.35),
            (3.71, 0.47), (3.80, 0.54), (3.90, 0.61), (3.99, 0.69), (4.08, 0.58), (4.17, 0.54), (4.27, 0.58),
            (4.36, 0.50), (4.45, 0.54), (4.55, 0.47), (4.64, 0.44), (4.73, 0.47), (4.82, 0.39), (4.92, 0.35),
            (5.01, 0.39), (5.10, 0.32), (5.19, 0.35), (5.29, 0.32), (5.38, 0.35), (5.47, 0.29), (5.57, 0.32),
            (5.66, 0.35), (5.73, 0.32), (5.77, -0.19), (5.83, 0.03), (5.90, 0.03)]
VEOG_E18 = [(1.09, 0.00), (1.19, 0.03), (1.28, 0.06), (1.37, 0.10), (1.47, 0.18), (1.52, 0.00), (1.60, 0.10),
            (1.67, 0.03), (1.74, 0.06), (1.84, -0.04), (1.93, -0.12), (2.02, -0.19), (2.12, -0.23), (2.21, -0.26),
            (2.26, -0.63), (2.34, -1.07), (2.41, -1.36), (2.49, -1.50), (2.56, -1.36), (2.63, -1.07), (2.71, -0.85),
            (2.78, -0.55), (2.86, -0.34), (2.95, -0.12), (3.04, 0.03), (3.14, 0.10), (3.23, 0.06), (3.32, 0.18),
            (3.41, 0.03), (3.51, 0.10), (3.60, 0.18), (3.69, 0.10), (3.78, 0.06), (3.88, 0.18), (3.97, 0.10),
            (4.06, 0.25), (4.16, 0.06), (4.25, 0.18), (4.34, 0.03), (4.43, 0.10), (4.53, 0.18), (4.62, 0.03),
            (4.71, 0.20), (4.81, 0.15), (4.90, 0.32), (4.99, 0.18), (5.08, 0.25), (5.18, 0.35), (5.27, 0.50),
            (5.36, 0.39), (5.45, 0.25), (5.55, 0.18), (5.64, 0.29), (5.73, 0.32), (5.83, 0.39), (5.92, 0.44),
            (6.01, 0.47), (6.10, 0.35), (6.20, 0.25), (6.29, 0.32), (6.38, 0.39), (6.48, 0.35), (6.57, 0.32),
            (6.66, 0.29), (6.75, 0.25), (6.81, 0.15), (6.86, -0.04)]

PANELS = [
    {"title": "Blink Signals (normalized) over 2s epochs, Epochs 1\u20139, Channel 1",
     "caption": "(a) Fz, Epochs 1-9",
     "epochs": [FZ_E01, FZ_E02, FZ_E03, FZ_E04, FZ_E05, FZ_E06, FZ_E07, FZ_E08, FZ_E09]},
    {"title": "Blink Signals (normalized) over 2s epochs, Epochs 10\u201318, Channel 1",
     "caption": "(b) Fz, Epochs 10-18",
     "epochs": [FZ_E10, FZ_E11, FZ_E12, FZ_E13, FZ_E14, FZ_E15, FZ_E16, FZ_E17, FZ_E18]},
    {"title": "Blink Signals (normalized) over 2s epochs, Epochs 1\u20139, Channel 6",
     "caption": "(c) VEOG, Epochs 1-9",
     "epochs": [VEOG_E01, VEOG_E02, VEOG_E03, VEOG_E04, VEOG_E05, VEOG_E06, VEOG_E07, VEOG_E08, VEOG_E09]},
    {"title": "Blink Signals (normalized) over 2s epochs, Epochs 10\u201318, Channel 6",
     "caption": "(d) VEOG, Epochs 10-18",
     "epochs": [VEOG_E10, VEOG_E11, VEOG_E12, VEOG_E13, VEOG_E14, VEOG_E15, VEOG_E16, VEOG_E17, VEOG_E18]},
]

# ---------------------------------------------------------------------------
# Layout (pixel boxes on a 966 x 861 canvas)
# ---------------------------------------------------------------------------
COLS_LEFT = [(13, 159), (168.5, 314.3), (323.7, 469.3)]
COLS_RIGHT = [(520.7, 664), (674, 817.3), (827, 970.3)]
LAYOUT = [
    {"cols": COLS_LEFT, "rows": [(46, 139.3), (156, 249.3), (266.7, 360)],
     "title_xy": (7.3, 7.6), "caption_xy": (238, 393)},
    {"cols": COLS_RIGHT, "rows": [(50.7, 143), (159.3, 251.3), (267.7, 360)],
     "title_xy": (507.3, 13.8), "caption_xy": (737, 393)},
    {"cols": COLS_LEFT, "rows": [(492.7, 586), (602.7, 696), (713.3, 806.7)],
     "title_xy": (7.3, 455), "caption_xy": (235, 841)},
    {"cols": COLS_RIGHT, "rows": [(497.7, 590), (606.3, 698.3), (714.7, 807)],
     "title_xy": (507.3, 459.7), "caption_xy": (740, 841)},
]

fig = plt.figure(figsize=(W / 100, H / 100), dpi=100)
fig.patch.set_facecolor("white")


def box(l, t, r, b):
    return [l / W, 1 - b / H, (r - l) / W, (b - t) / H]


for panel, lay in zip(PANELS, LAYOUT):
    for k, samples in enumerate(panel["epochs"]):
        row, col = divmod(k, 3)
        (l, r), (t, b) = lay["cols"][col], lay["rows"][row]
        ax = fig.add_axes(box(l, t, r, b))
        tt, vv = np.array(samples).T
        ax.plot(tt, vv, color="#0000ff", lw=2.3, solid_joinstyle="round", solid_capstyle="round")
        ax.set_xlim(0, 8)
        ax.set_ylim(-2, 2)
        ax.set_xticks(np.arange(0, 9))
        ax.set_yticks([-2, -1, 0, 1, 2])
        ax.grid(True, color="0.25", linestyle=(0, (1, 3.5)), linewidth=0.7)
        ax.tick_params(direction="in", length=2.5, width=0.6, top=True, right=True,
                       labelbottom=False, labelleft=False)
        for sp in ax.spines.values():
            sp.set_linewidth(1.3)
            sp.set_color("black")

    tx, ty = lay["title_xy"]
    fig.text(tx / W, 1 - ty / H, panel["title"], ha="left", va="center",
             fontsize=9.7, fontweight="bold", family=["Liberation Sans", "DejaVu Sans"])
    cx, cy = lay["caption_xy"]
    fig.text(cx / W, 1 - cy / H, panel["caption"], ha="center", va="center",
             fontsize=18, family=["cmr10", "DejaVu Serif"])

fig.savefig("out.png", dpi=100)
